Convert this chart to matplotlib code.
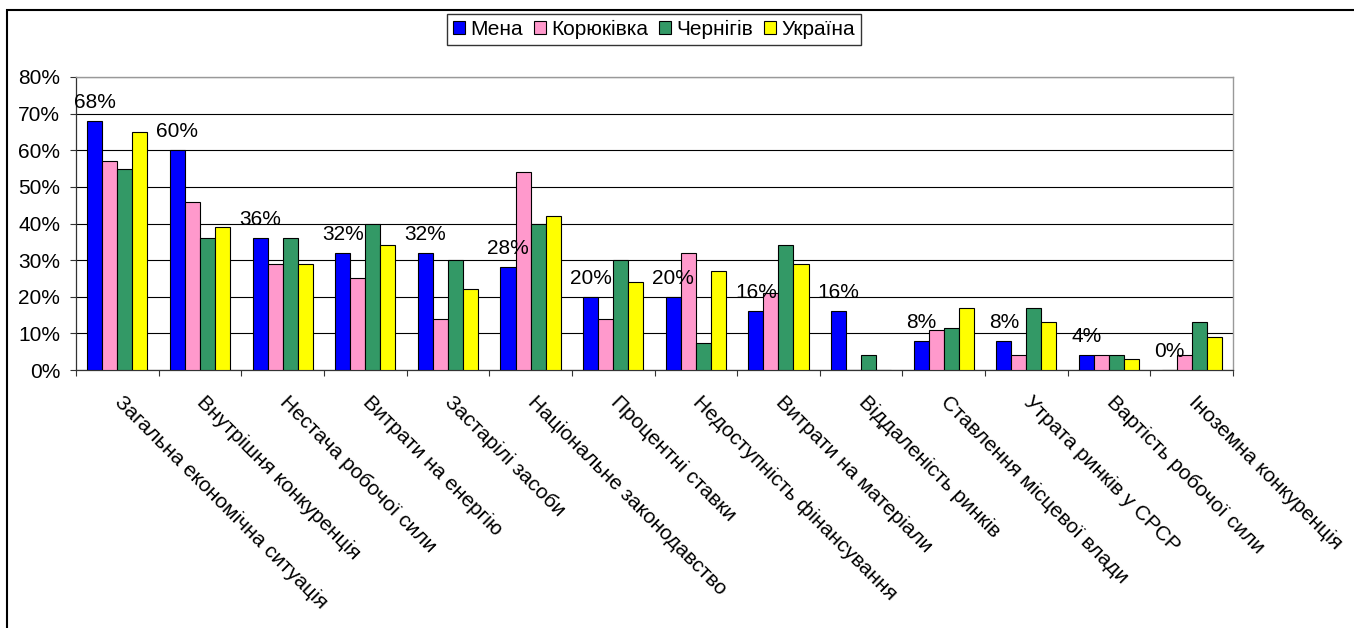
import matplotlib
matplotlib.use("Agg")
import matplotlib.pyplot as plt
import numpy as np
from matplotlib.patches import Patch, Rectangle
from matplotlib.ticker import FuncFormatter, FixedLocator

plt.rcParams['font.family'] = ['Liberation Sans', 'DejaVu Sans']

categories = [
    "Загальна економічна ситуація",
    "Внутрішня конкуренція",
    "Нестача робочої сили",
    "Витрати на енергію",
    "Застарілі засоби",
    "Національне законодавство",
    "Процентні ставки",
    "Недоступність фінансування",
    "Витрати на матеріали",
    "Віддаленість ринків",
    "Ставлення місцевої влади",
    "Утрата ринків у СРСР",
    "Вартість робочої сили",
    "Іноземна конкуренція",
]
series_names = ["Мена", "Корюківка", "Чернігів", "Україна"]
mena = [68, 60, 36, 32, 32, 28, 20, 20, 16, 16, 8, 8, 4, 0]
koriukivka = [57, 46, 29, 25, 14, 54, 14, 32, 21, 0, 11, 4, 4, 4]
chernihiv = [55, 36, 36, 40, 30, 40, 30, 7.5, 34, 4, 11.5, 17, 4, 13]
ukraine = [65, 39, 29, 34, 22, 42, 24, 27, 29, 0, 17, 13, 3, 9]
colors = ["#0000FF", "#FF99CC", "#339966", "#FFFF00"]

FS = 15

W, H = 1354, 628
fig = plt.figure(figsize=(W / 100, H / 100), dpi=100)
ax = fig.add_axes([76 / W, 1 - 370 / H, (1233 - 76) / W, (370 - 77) / H])

n = len(categories)
x = np.arange(n)
bw = 1 / 5.5
all_series = [mena, koriukivka, chernihiv, ukraine]
for k, (vals, col, name) in enumerate(zip(all_series, colors, series_names)):
    ax.bar(x + (k - 1.5) * bw, vals, width=bw, color=col, edgecolor="black",
           linewidth=0.8, label=name, zorder=3)

# value labels above the first series
for xi, v in zip(x, mena):
    ax.annotate(f"{v:.0f}%", xy=(xi - 1.5 * bw, v), xytext=(0, 9.5),
                textcoords="offset points", ha="center", va="baseline",
                fontsize=FS, zorder=4)

ax.set_xlim(-0.5, n - 0.5)
ax.set_ylim(0, 80)
ax.yaxis.set_major_locator(FixedLocator(np.arange(0, 81, 10)))
ax.yaxis.set_major_formatter(FuncFormatter(lambda v, p: f"{v:.0f}%"))
ax.yaxis.grid(True, color="black", linewidth=0.8, zorder=0)
ax.set_axisbelow(True)

ax.set_xticks(np.arange(n + 1) - 0.5)
ax.set_xticklabels([])
ax.tick_params(axis="both", direction="out", length=4.5, width=0.8,
               color="#333333", labelsize=FS)
ax.tick_params(axis="y", pad=7)

for s in ("left", "bottom"):
    ax.spines[s].set_color("#333333")
    ax.spines[s].set_linewidth(0.9)
for s in ("top", "right"):
    ax.spines[s].set_color("#999999")
    ax.spines[s].set_linewidth(1.0)

# rotated category names
for xi, lab in zip(x, categories):
    ax.annotate(lab, xy=(xi, 0), xycoords=("data", "axes fraction"),
                xytext=(5, -16), textcoords="offset points",
                rotation=-45, rotation_mode="anchor", ha="left", va="top",
                fontsize=FS)

handles = [Patch(facecolor=c, edgecolor="black", linewidth=0.8) for c in colors]
leg = fig.legend(handles, series_names, loc="center",
                 bbox_to_anchor=(654 / W, 1 - 29.5 / H), ncol=4,
                 fontsize=FS, frameon=True, fancybox=False,
                 handlelength=0.6, handleheight=0.6, handletextpad=0.25,
                 columnspacing=0.5, borderpad=0.3, borderaxespad=0)
leg.get_frame().set_edgecolor("black")
leg.get_frame().set_linewidth(1.0)

# outer chart border
fig.patches.append(Rectangle((7 / W, -0.1), 1.2, 1 - 10 / H + 0.1,
                             transform=fig.transFigure, fill=False,
                             edgecolor="black", linewidth=1.5))

fig.savefig("out.png", dpi=100)
